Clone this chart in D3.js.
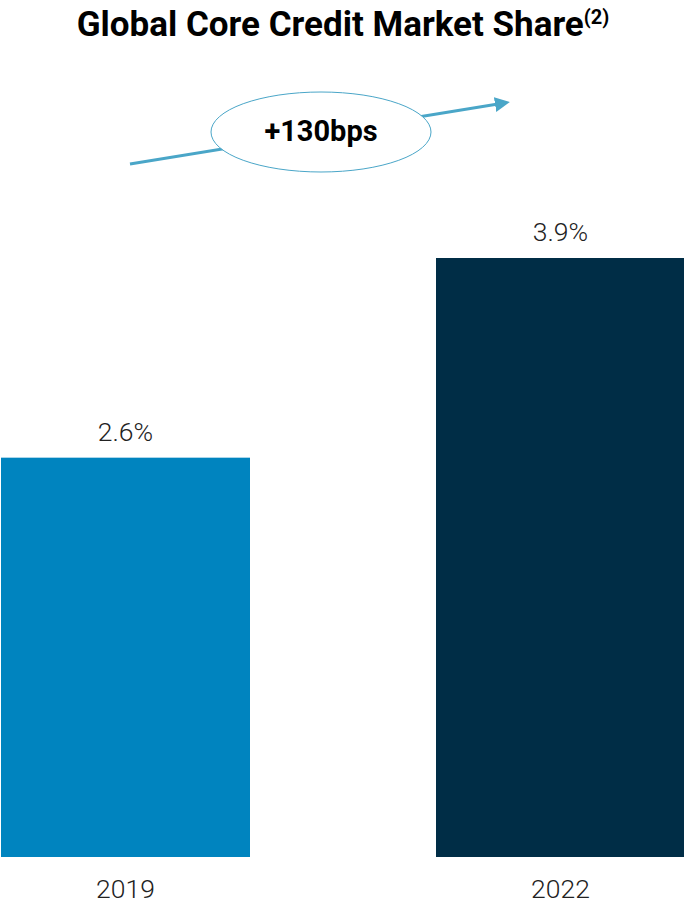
<!DOCTYPE html>
<html>
<head>
<meta charset="utf-8">
<script src="https://cdn.jsdelivr.net/npm/d3@7"></script>
<style>
  body { margin: 0; background: #fff; }
  text { font-family: Roboto, "Noto Sans", sans-serif; }
</style>
</head>
<body>
<script>
//Data
var years = ["2019", "2022"];
var shares = [2.6, 3.9];
var barColors = ["#0084bf", "#002d46"];
var changeLabel = "+130bps";

//Width and height
var w = 684;
var h = 908;

var svg = d3.select("body")
            .append("svg")
            .attr("width", w)
            .attr("height", h);

//Scales
var x = d3.scaleBand()
            .domain(years)
            .range([1, 685])
            .paddingInner(186 / 435)
            .paddingOuter(0);

var y = d3.scaleLinear()
            .domain([0, 3.9])
            .range([857, 258]);

//Title
var title = svg.append("text")
    .attr("x", 343)
    .attr("y", 36)
    .attr("text-anchor", "middle")
    .style("font-size", "35px")
    .style("font-weight", "bold")
    .style("fill", "#000");
title.append("tspan").text("Global Core Credit Market Share");
title.append("tspan")
    .attr("dy", -12)
    .style("font-size", "20px")
    .text("(2)");

//Bars
svg.selectAll("rect.bar")
    .data(shares)
    .enter()
    .append("rect")
    .attr("class", "bar")
    .attr("x", function(d, i) { return x(years[i]); })
    .attr("y", function(d) { return y(d); })
    .attr("width", x.bandwidth())
    .attr("height", function(d) { return y(0) - y(d); })
    .style("fill", function(d, i) { return barColors[i]; });

//Value labels
svg.selectAll("text.value")
    .data(shares)
    .enter()
    .append("text")
    .attr("class", "value")
    .attr("x", function(d, i) { return x(years[i]) + x.bandwidth() / 2; })
    .attr("y", function(d) { return y(d) - 17; })
    .attr("text-anchor", "middle")
    .style("font-size", "26.5px")
    .style("font-weight", 300)
    .style("fill", "#222")
    .text(function(d) { return d.toFixed(1) + "%"; });

//Category labels
svg.selectAll("text.year")
    .data(years)
    .enter()
    .append("text")
    .attr("class", "year")
    .attr("x", function(d) { return x(d) + x.bandwidth() / 2; })
    .attr("y", 898)
    .attr("text-anchor", "middle")
    .style("font-size", "26.5px")
    .style("font-weight", 300)
    .style("fill", "#222")
    .text(function(d) { return d; });

//Growth arrow
svg.append("defs").append("marker")
    .attr("id", "head")
    .attr("viewBox", "0 0 10 10")
    .attr("refX", 2)
    .attr("refY", 5)
    .attr("markerWidth", 5)
    .attr("markerHeight", 5)
    .attr("orient", "auto")
    .append("path")
    .attr("d", "M0,0L10,5L0,10Z")
    .style("fill", "#4aa6c8");

svg.append("line")
    .attr("x1", 130)
    .attr("y1", 164)
    .attr("x2", 498)
    .attr("y2", 104)
    .style("stroke", "#4aa6c8")
    .style("stroke-width", 3)
    .attr("marker-end", "url(#head)");

svg.append("ellipse")
    .attr("cx", 321)
    .attr("cy", 132)
    .attr("rx", 110)
    .attr("ry", 40)
    .style("fill", "#fff")
    .style("stroke", "#4aa6c8")
    .style("stroke-width", 1);

svg.append("text")
    .attr("x", 321)
    .attr("y", 141)
    .attr("text-anchor", "middle")
    .style("font-size", "29px")
    .style("font-weight", "bold")
    .style("fill", "#000")
    .text(changeLabel);
</script>
</body>
</html>
